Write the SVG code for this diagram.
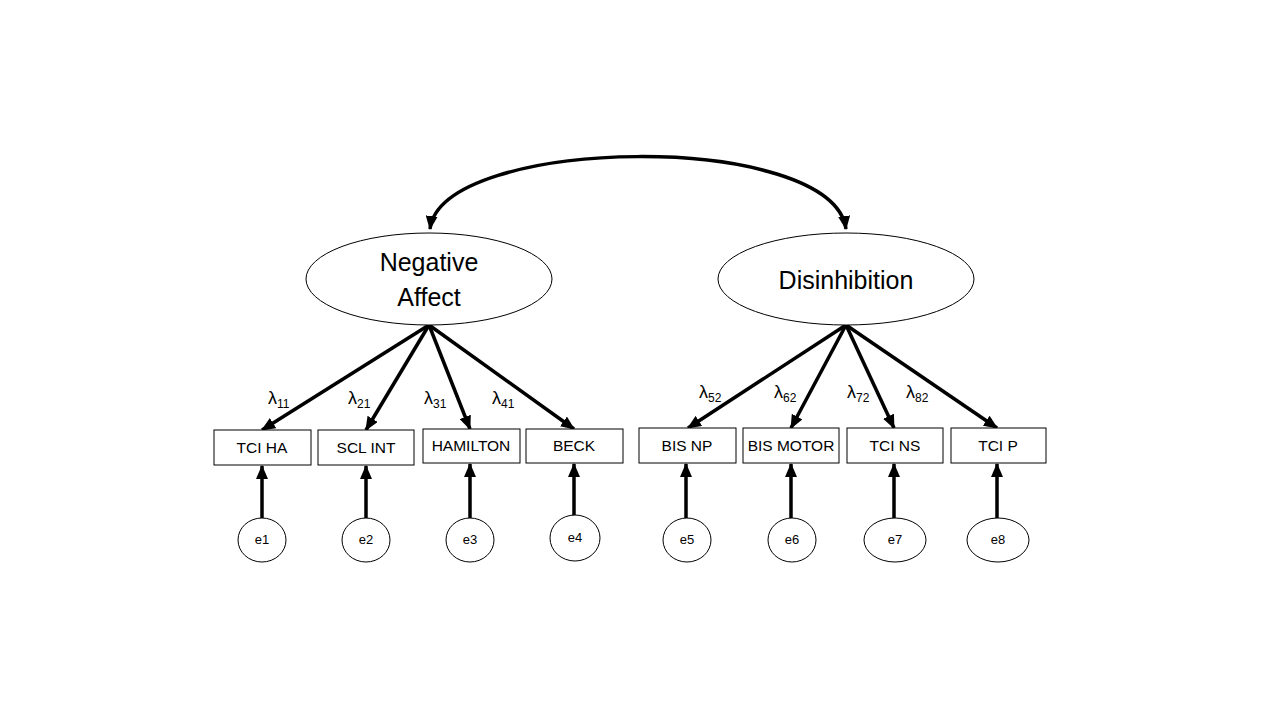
<svg xmlns="http://www.w3.org/2000/svg" width="1280" height="720" viewBox="0 0 1280 720">
<style>
.lat{fill:#fff;stroke:#000;stroke-width:1}
.box{fill:#fff;stroke:#000;stroke-width:1}
.err{fill:#fff;stroke:#000;stroke-width:1}
.t{font-family:"Liberation Sans",Arial,sans-serif;fill:#000;text-anchor:middle}
.lt{font-size:25px}
.bt{font-size:15.5px}
.et{font-size:13px}
.lam{font-family:"Liberation Sans",Arial,sans-serif;font-size:18px;fill:#000}
.sub{font-size:12px}
.c{stroke:#000;stroke-width:3.5;fill:none;marker-end:url(#ah)}
</style>
<defs>
<marker id="ah" markerUnits="userSpaceOnUse" markerWidth="14" markerHeight="12" refX="13" refY="6" orient="auto">
<path d="M0,0 L14,6 L0,12 Z" fill="#000"/>
</marker>
<marker id="as" markerUnits="userSpaceOnUse" markerWidth="14" markerHeight="12" refX="1" refY="6" orient="auto">
<path d="M14,0 L0,6 L14,12 Z" fill="#000"/>
</marker>
</defs>
<rect width="1280" height="720" fill="#fff"/>
<g id="connectors">
<path d="M 430 229 C 442 135, 832 130, 846 229" stroke="#000" stroke-width="3.5" fill="none" marker-start="url(#as)" marker-end="url(#ah)"/>
<line class="c" x1="429" y1="325" x2="262" y2="430"/>
<line class="c" x1="429" y1="325" x2="366" y2="430"/>
<line class="c" x1="429" y1="325" x2="470" y2="429"/>
<line class="c" x1="429" y1="325" x2="574" y2="429"/>
<line class="c" x1="846" y1="325" x2="688" y2="428"/>
<line class="c" x1="846" y1="325" x2="791" y2="428"/>
<line class="c" x1="846" y1="325" x2="894" y2="428"/>
<line class="c" x1="846" y1="325" x2="997" y2="428"/>
<line class="c" x1="262" y1="518" x2="262" y2="466"/>
<line class="c" x1="366" y1="518" x2="366" y2="466"/>
<line class="c" x1="470" y1="518" x2="470" y2="464"/>
<line class="c" x1="574" y1="516" x2="574" y2="464"/>
<line class="c" x1="686" y1="518" x2="686" y2="464"/>
<line class="c" x1="791" y1="518" x2="791" y2="464"/>
<line class="c" x1="894" y1="518" x2="894" y2="464"/>
<line class="c" x1="997" y1="518" x2="997" y2="464"/>
<text class="lam" x="268" y="404">λ<tspan class="sub" dy="4">11</tspan></text>
<text class="lam" x="348" y="404">λ<tspan class="sub" dy="4">21</tspan></text>
<text class="lam" x="424" y="404">λ<tspan class="sub" dy="4">31</tspan></text>
<text class="lam" x="492" y="404">λ<tspan class="sub" dy="4">41</tspan></text>
<text class="lam" x="699" y="398">λ<tspan class="sub" dy="4">52</tspan></text>
<text class="lam" x="774" y="398">λ<tspan class="sub" dy="4">62</tspan></text>
<text class="lam" x="847" y="398">λ<tspan class="sub" dy="4">72</tspan></text>
<text class="lam" x="906" y="398">λ<tspan class="sub" dy="4">82</tspan></text>
</g>
<g id="negative-affect">
<ellipse class="lat" cx="429" cy="279" rx="123" ry="46"/>
<text class="t lt" x="429" y="271">Negative</text>
<text class="t lt" x="429" y="306">Affect</text>
</g>
<g id="disinhibition">
<ellipse class="lat" cx="846" cy="279" rx="128" ry="46"/>
<text class="t lt" x="846" y="289">Disinhibition</text>
</g>
<g id="tci-ha"><rect class="box" x="214" y="430" width="97" height="35"/><text class="t bt" x="262" y="453">TCI HA</text></g>
<g id="scl-int"><rect class="box" x="318" y="430" width="96" height="35"/><text class="t bt" x="366" y="453">SCL INT</text></g>
<g id="hamilton"><rect class="box" x="423" y="429" width="97" height="34"/><text class="t bt" x="471" y="451">HAMILTON</text></g>
<g id="beck"><rect class="box" x="526" y="429" width="97" height="34"/><text class="t bt" x="574" y="451">BECK</text></g>
<g id="bis-np"><rect class="box" x="639" y="428" width="97" height="35"/><text class="t bt" x="687" y="451">BIS NP</text></g>
<g id="bis-motor"><rect class="box" x="743" y="428" width="96" height="35"/><text class="t bt" x="791" y="451">BIS MOTOR</text></g>
<g id="tci-ns"><rect class="box" x="847" y="428" width="96" height="35"/><text class="t bt" x="895" y="451">TCI NS</text></g>
<g id="tci-p"><rect class="box" x="951" y="428" width="95" height="35"/><text class="t bt" x="998" y="451">TCI P</text></g>
<g id="e1"><ellipse class="err" cx="262" cy="540" rx="24" ry="22"/><text class="t et" x="262" y="544">e1</text></g>
<g id="e2"><ellipse class="err" cx="366" cy="540" rx="24" ry="22"/><text class="t et" x="366" y="544">e2</text></g>
<g id="e3"><ellipse class="err" cx="470" cy="540" rx="24" ry="22"/><text class="t et" x="470" y="544">e3</text></g>
<g id="e4"><ellipse class="err" cx="575" cy="538" rx="25" ry="23"/><text class="t et" x="575" y="542">e4</text></g>
<g id="e5"><ellipse class="err" cx="687" cy="540" rx="24" ry="22"/><text class="t et" x="687" y="544">e5</text></g>
<g id="e6"><ellipse class="err" cx="792" cy="540" rx="24" ry="22"/><text class="t et" x="792" y="544">e6</text></g>
<g id="e7"><ellipse class="err" cx="895" cy="540" rx="31" ry="22"/><text class="t et" x="895" y="544">e7</text></g>
<g id="e8"><ellipse class="err" cx="998" cy="540" rx="31" ry="22"/><text class="t et" x="998" y="544">e8</text></g>
</svg>
